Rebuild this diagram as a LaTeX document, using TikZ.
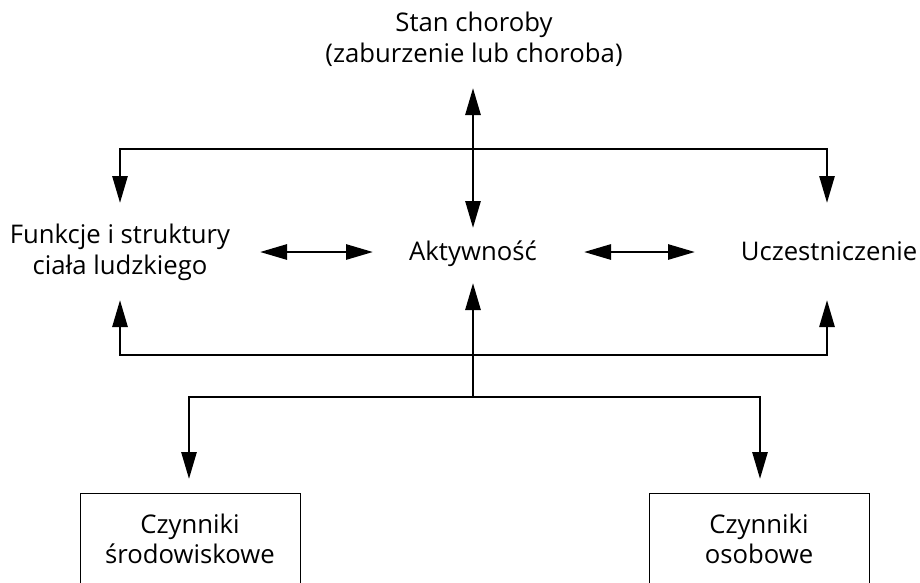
\documentclass[tikz,border=0pt]{standalone}
\usepackage{fontspec}
\setmainfont{Open Sans}
\usetikzlibrary{arrows.meta}
\begin{document}
\begin{tikzpicture}[x=1pt,y=-1pt,
  lbl/.style={inner sep=0pt, align=center, font=\fontsize{25.7}{30.5}\selectfont, anchor=base},
  boxst/.style={draw, line width=1pt, inner sep=0pt, align=center, minimum width=220pt, minimum height=92pt, font=\fontsize{25.7}{30.5}\selectfont},
  conn/.style={line width=2.8pt},
  arr/.style={conn, -{Triangle[length=27pt,width=15pt]}},
  darr/.style={conn, {Triangle[length=27pt,width=15pt]}-{Triangle[length=27pt,width=15pt]}}]
\useasboundingbox (0,0) rectangle (920,582);
\clip (0,0) rectangle (920,582);
% texts (base anchor = baseline of the last line)
\node[lbl] (stan) at (474,62) {Stan choroby\\(zaburzenie lub choroba)};
\node[lbl] (fun) at (120,274) {Funkcje i struktury\\ciała ludzkiego};
\node[lbl] (akt) at (473,260) {Aktywność};
\node[lbl] (ucz) at (829,260) {Uczestniczenie};
\node[boxst] (env) at (190,539) {Czynniki\\środowiskowe};
\node[boxst] (pers) at (759,539) {Czynniki\\osobowe};
% connector points
\coordinate (stanTip) at (473,88);
\coordinate (aktTop) at (473,228);
\coordinate (jt) at (473,149);
\coordinate (funTop) at (120,203);
\coordinate (uczTop) at (827,203);
\coordinate (h1a) at (260,252);
\coordinate (h1b) at (373,252);
\coordinate (h2a) at (584,252);
\coordinate (h2b) at (695,252);
\coordinate (aktBot) at (473,283);
\coordinate (funBot) at (120,300);
\coordinate (uczBot) at (827,300);
\coordinate (jb) at (473,355);
\coordinate (jb2) at (473,397);
\coordinate (envTop) at (189,479);
\coordinate (persTop) at (760,479);
% connectors
\draw[darr] (stanTip) -- (aktTop);
\draw[arr] (jt) -| (funTop);
\draw[arr] (jt) -| (uczTop);
\draw[darr] (h1a) -- (h1b);
\draw[darr] (h2a) -- (h2b);
\draw[arr] (jb2) -- (aktBot);
\draw[arr] (jb) -| (funBot);
\draw[arr] (jb) -| (uczBot);
\draw[arr] (jb2) -| (envTop);
\draw[arr] (jb2) -| (persTop);
\end{tikzpicture}
\end{document}
